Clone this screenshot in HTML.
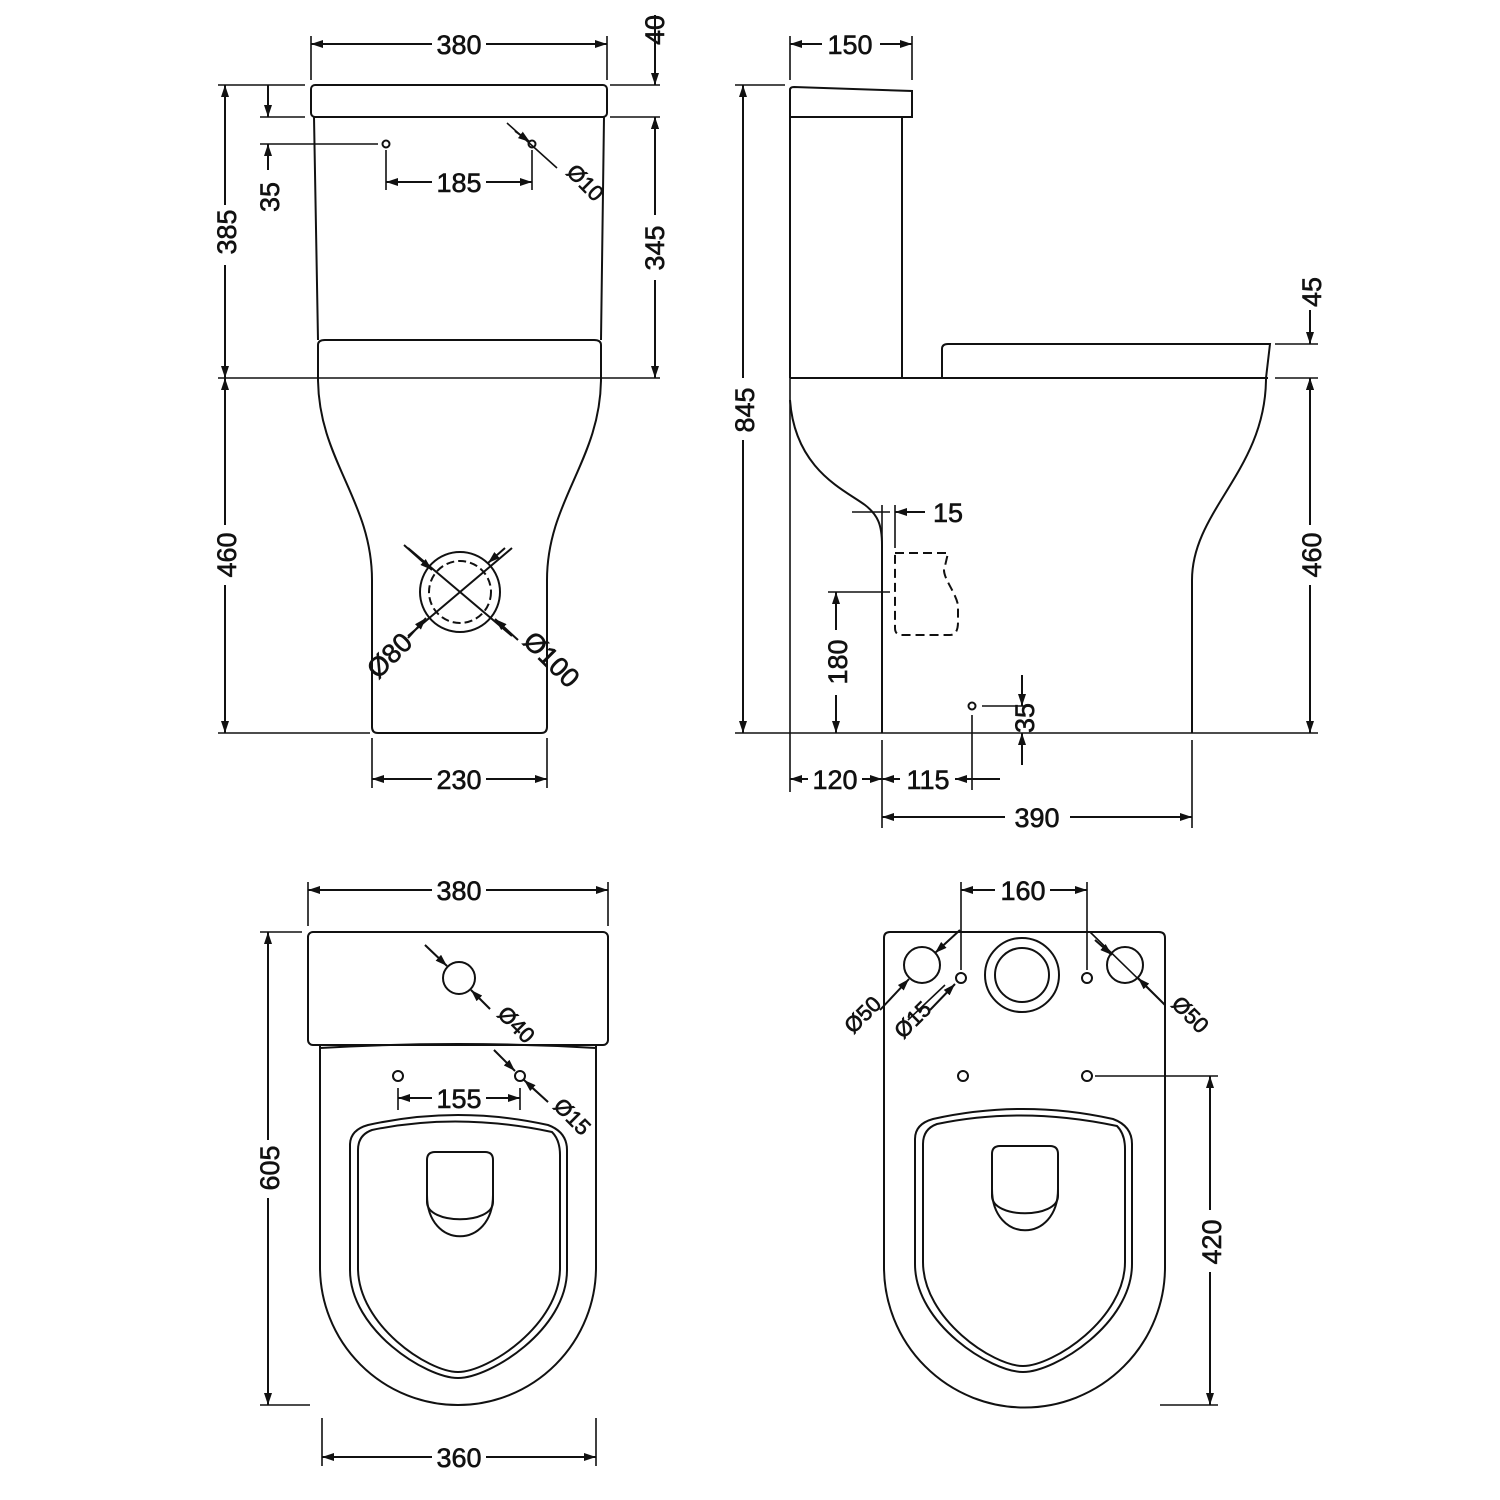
<!DOCTYPE html>
<html><head><meta charset="utf-8"><style>html,body{margin:0;padding:0;background:#fff}svg{display:block}</style></head><body>
<svg width="1500" height="1500" viewBox="0 0 1500 1500" xmlns="http://www.w3.org/2000/svg" font-family="Liberation Sans, sans-serif" font-size="27" fill="none" stroke="#111" stroke-width="2">
<defs>
<marker id="a" viewBox="0 0 12 8" refX="12" refY="4" markerWidth="12" markerHeight="8" orient="auto-start-reverse" markerUnits="userSpaceOnUse"><path d="M0,0 L12,4 L0,8 z" fill="#111" stroke="none"/></marker>
</defs>
<g fill="#111" stroke="#111" stroke-width="0.6">
<text x="459" y="54" text-anchor="middle">380</text>
<text x="850" y="54" text-anchor="middle">150</text>
<text x="459" y="192" text-anchor="middle">185</text>
<text x="459" y="789" text-anchor="middle">230</text>
<text x="835" y="789" text-anchor="middle">120</text>
<text x="928" y="789" text-anchor="middle">115</text>
<text x="1037" y="827" text-anchor="middle">390</text>
<text x="948" y="522" text-anchor="middle">15</text>
<text x="459" y="900" text-anchor="middle">380</text>
<text x="1023" y="900" text-anchor="middle">160</text>
<text x="459" y="1108" text-anchor="middle">155</text>
<text x="459" y="1467" text-anchor="middle">360</text>
<text transform="translate(236,232) rotate(-90)" text-anchor="middle">385</text>
<text transform="translate(236,555) rotate(-90)" text-anchor="middle">460</text>
<text transform="translate(279,197) rotate(-90)" text-anchor="middle">35</text>
<text transform="translate(664,30) rotate(-90)" text-anchor="middle">40</text>
<text transform="translate(664,248) rotate(-90)" text-anchor="middle">345</text>
<text transform="translate(754,410) rotate(-90)" text-anchor="middle">845</text>
<text transform="translate(1321,292) rotate(-90)" text-anchor="middle">45</text>
<text transform="translate(1321,555) rotate(-90)" text-anchor="middle">460</text>
<text transform="translate(847,662) rotate(-90)" text-anchor="middle">180</text>
<text transform="translate(1034,718) rotate(-90)" text-anchor="middle">35</text>
<text transform="translate(279,1168) rotate(-90)" text-anchor="middle">605</text>
<text transform="translate(1221,1242) rotate(-90)" text-anchor="middle">420</text>
<text transform="translate(580,188) rotate(45)" text-anchor="middle" font-size="22">Ø10</text>
<text transform="translate(396,662) rotate(-45)" text-anchor="middle">Ø80</text>
<text transform="translate(545,666) rotate(45)" text-anchor="middle">Ø100</text>
<text transform="translate(511,1030) rotate(45)" text-anchor="middle" font-size="22">Ø40</text>
<text transform="translate(567,1122) rotate(45)" text-anchor="middle" font-size="22">Ø15</text>
<text transform="translate(868,1020) rotate(-45)" text-anchor="middle" font-size="22">Ø50</text>
<text transform="translate(918,1025) rotate(-45)" text-anchor="middle" font-size="22">Ø15</text>
<text transform="translate(1185,1020) rotate(45)" text-anchor="middle" font-size="22">Ø50</text>
</g>

<!-- FRONT VIEW -->
<rect x="311" y="85" width="296" height="32" rx="4"/>
<path d="M314,117 L318,340 M604,117 L601,340"/>
<path d="M318,378 L318,345 Q318,340 325,340 L594,340 Q601,340 601,345 L601,378"/>
<path d="M318,378 C318,460 372,500 372,580 L372,727 Q372,733 378,733 L541,733 Q547,733 547,727 L547,580 C547,500 601,460 601,378"/>
<circle cx="460" cy="592" r="40"/>
<circle cx="460" cy="592" r="31" stroke-dasharray="8,4"/>
<path d="M408,548 L512,636 M512,548 L408,636" />
<circle cx="386" cy="144" r="3.5"/><circle cx="532" cy="144" r="3.5"/>
<path d="M311,80 V36 M607,80 V36 M218,85 H305 M218,378 H660 M610,85 H660 M610,117 H660 M260,117 H305 M260,144 H378 M372,738 V788 M547,738 V788 M386,150 V190 M532,150 V190 M507,123 L557,168" stroke-width="1.6"/>
<path d="M311,44 H432 M486,44 H607" marker-start="url(#a)" marker-end="url(#a)"/>
<path d="M225,205 V85" marker-end="url(#a)"/><path d="M225,265 V378" marker-end="url(#a)"/>
<path d="M225,525 V378" marker-end="url(#a)"/><path d="M225,585 V733" marker-end="url(#a)"/>
<path d="M218,733 H370" stroke-width="1.6"/>
<path d="M268,85 V117" marker-end="url(#a)"/><path d="M268,170 V144" marker-end="url(#a)"/>
<path d="M655,15 V85" marker-end="url(#a)"/><path d="M655,140 V117" marker-end="url(#a)"/>
<path d="M655,215 V117" marker-end="url(#a)"/><path d="M655,280 V378" marker-end="url(#a)"/>
<path d="M432,182 H386" marker-end="url(#a)"/><path d="M486,182 H532" marker-end="url(#a)"/>
<path d="M432,779 H372" marker-end="url(#a)"/><path d="M486,779 H547" marker-end="url(#a)"/>
<path d="M515,131 L530,142" marker-end="url(#a)"/>
<path d="M404,545 L432,570" marker-end="url(#a)"/><path d="M505,548 L488,563" marker-end="url(#a)"/>
<path d="M408,638 L426,618" marker-end="url(#a)"/><path d="M518,640 L495,619" marker-end="url(#a)"/>

<!-- SIDE VIEW -->
<path d="M790,117 V90 Q790,87 794,87 L912,91 V117 Z"/>
<path d="M790,117 V378 M902,117 V378"/>
<path d="M942,378 V349 Q942,344 948,344 L1270,344 L1266,378"/>
<path d="M790,378 H1268"/>
<path d="M790,400 C795,470 845,490 865,505 C878,515 882,525 882,545 V733"/>
<path d="M1266,378 C1266,470 1192,510 1192,580 V733"/>
<path d="M895,553 H948 L945,566 C940,575 955,590 958,605 L958,622 Q958,635 950,635 L902,635 Q895,635 895,628 Z" stroke-dasharray="9,5"/>
<circle cx="972" cy="706" r="3.5"/>
<path d="M790,378 V792 M735,85 H785 M735,733 H1318 M1275,344 H1318 M1275,378 H1318 M882,740 V828 M1192,740 V828 M972,715 V790 M828,592 H890 M852,512 H890 M882,505 V548 M895,505 V548 M982,706 H1030" stroke-width="1.6"/>
<path d="M790,80 V36 M912,80 V36" stroke-width="1.6"/>
<path d="M790,44 H822 M880,44 H912" marker-start="url(#a)" marker-end="url(#a)"/>
<path d="M743,378 V85" marker-end="url(#a)"/><path d="M743,440 V733" marker-end="url(#a)"/>
<path d="M1310,310 V344" marker-end="url(#a)"/><path d="M1310,410 V378" marker-end="url(#a)"/>
<path d="M1310,525 V378" marker-end="url(#a)"/><path d="M1310,585 V733" marker-end="url(#a)"/>
<path d="M836,630 V592" marker-end="url(#a)"/><path d="M836,695 V733" marker-end="url(#a)"/>
<path d="M1022,675 V706" marker-end="url(#a)"/><path d="M1022,765 V733" marker-end="url(#a)"/>
<path d="M925,512 H895" marker-end="url(#a)"/>
<path d="M808,779 H790" marker-end="url(#a)"/><path d="M862,779 H882" marker-end="url(#a)"/>
<path d="M900,779 H882" marker-end="url(#a)"/><path d="M955,779 H1000" marker-start="url(#a)"/>
<path d="M1005,817 H882" marker-end="url(#a)"/><path d="M1070,817 H1192" marker-end="url(#a)"/>

<!-- TOP VIEW LEFT -->
<rect x="308" y="932" width="300" height="113" rx="5"/>
<path d="M320,1045 V1267 A138,138 0 0 0 596,1267 V1045" />
<path d="M320,1048 Q458,1040 596,1048" />
<g id="seat">
<path d="M350,1145 Q350,1130 368,1125 Q458,1105 548,1125 Q567,1132 567,1150 V1270 C567,1330 490,1378 458,1378 C426,1378 350,1330 350,1270 Z"/>
<path d="M358,1150 Q358,1135 372,1130 Q458,1112 552,1132 Q560,1140 560,1155 V1268 C560,1325 488,1372 458,1372 C428,1372 358,1325 358,1268 Z"/>
<path d="M427,1202 V1160 Q427,1152 435,1152 L485,1152 Q493,1152 493,1160 V1202 C493,1225 427,1225 427,1202 Z"/>
<path d="M427,1195 C427,1250 493,1250 493,1195"/>
</g>
<circle cx="459" cy="978" r="16"/>
<circle cx="398" cy="1076" r="5"/><circle cx="520" cy="1076" r="5"/>
<path d="M308,926 V882 M608,926 V882 M260,932 H302 M260,1405 H310 M322,1418 V1466 M596,1418 V1466 M398,1088 V1110 M520,1088 V1110 M425,945 L445,964 M474,993 L490,1009 M494,1050 L512,1068 M530,1086 L548,1102" stroke-width="1.6"/>
<path d="M308,890 H432 M486,890 H608" marker-start="url(#a)" marker-end="url(#a)"/>
<path d="M268,1140 V932" marker-end="url(#a)"/><path d="M268,1198 V1405" marker-end="url(#a)"/>
<path d="M322,1457 H432 M486,1457 H596" marker-start="url(#a)" marker-end="url(#a)"/>
<path d="M432,1098 H398" marker-end="url(#a)"/><path d="M486,1098 H520" marker-end="url(#a)"/>
<path d="M425,945 L447,966" marker-end="url(#a)"/><path d="M490,1009 L471,990" marker-end="url(#a)"/>
<path d="M494,1050 L515,1071" marker-end="url(#a)"/><path d="M548,1102 L524,1080" marker-end="url(#a)"/>

<!-- TOP VIEW RIGHT -->
<path d="M884,938 Q884,932 890,932 L1159,932 Q1165,932 1165,938 V1267 A140.5,140.5 0 0 1 884,1267 Z"/>
<g transform="translate(565,-6)"><use href="#seat"/></g>
<circle cx="1022" cy="975" r="37"/><circle cx="1022" cy="975" r="27"/>
<circle cx="922" cy="965" r="18"/><circle cx="1125" cy="965" r="18"/>
<circle cx="961" cy="978" r="5"/><circle cx="1087" cy="978" r="5"/>
<circle cx="963" cy="1076" r="5"/><circle cx="1087" cy="1076" r="5"/>
<path d="M961,882 V970 M1087,882 V970 M1095,1076 H1218 M1160,1405 H1218 M945,985 L908,1020 M1090,932 L1165,1005" stroke-width="1.6"/>
<path d="M995,890 H961" marker-end="url(#a)"/><path d="M1050,890 H1087" marker-end="url(#a)"/>
<path d="M960,930 L935,953" marker-end="url(#a)"/><path d="M880,1010 L909,979" marker-end="url(#a)"/>
<path d="M930,1010 L955,984" marker-end="url(#a)"/>
<path d="M1095,940 L1112,955" marker-end="url(#a)"/><path d="M1165,1005 L1138,978" marker-end="url(#a)"/>
<path d="M1210,1210 V1076" marker-end="url(#a)"/><path d="M1210,1272 V1405" marker-end="url(#a)"/>
</svg>
</body></html>
